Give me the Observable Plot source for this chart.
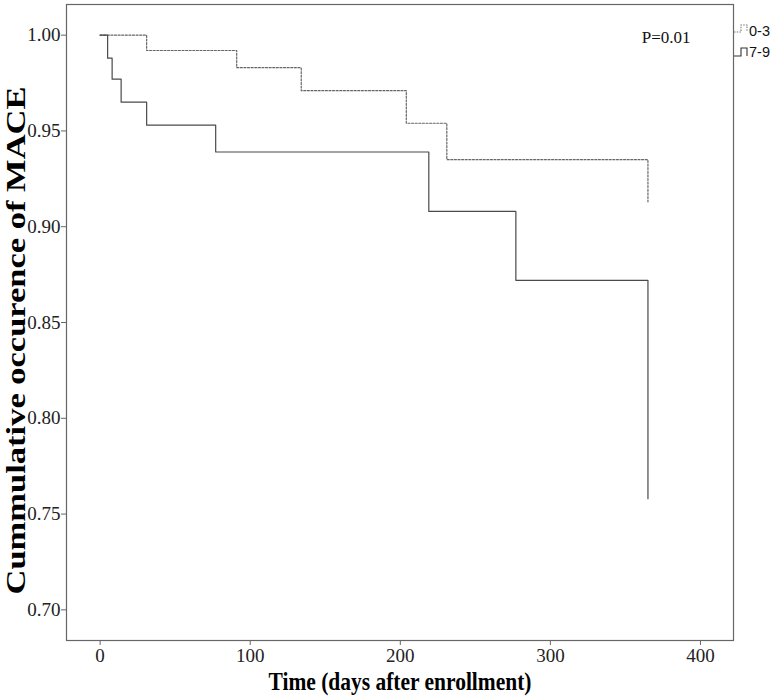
<!DOCTYPE html>
<html><head><meta charset="utf-8">
<script src="https://cdn.jsdelivr.net/npm/d3@7"></script>
<script src="https://cdn.jsdelivr.net/npm/@observablehq/plot@0.6"></script>
<style>
body{margin:0;background:#fff}
#wrap{position:relative;width:780px;height:699px;overflow:hidden}
#legend{position:absolute;left:0;top:0}
</style>
</head><body><div id="wrap"></div>
<script>
// Data (Kaplan–Meier style step curves)
const groups = ["0-3", "7-9"];
const daysLow = [0, 31, 91, 134, 204, 231, 365];
const survLow = [1.0, 0.992, 0.983, 0.971, 0.954, 0.935, 0.913];
const daysHigh = [0, 5, 8, 14, 31, 77, 219, 277, 365];
const survHigh = [1.0, 0.988, 0.977, 0.965, 0.953, 0.939, 0.908, 0.872, 0.758];
const xTicks = [0, 100, 200, 300, 400];
const yTicks = [0.70, 0.75, 0.80, 0.85, 0.90, 0.95, 1.00];
const xTitle = "Time (days after enrollment)";
const yTitle = "Cummulative occurence of MACE";
const pText = "P=0.01";

const rows = [
  ...daysLow.map((d, i) => ({group: groups[0], day: d, s: survLow[i]})),
  ...daysHigh.map((d, i) => ({group: groups[1], day: d, s: survHigh[i]}))
];

const chart = Plot.plot({
  width: 780, height: 699,
  marginLeft: 66, marginRight: 47, marginTop: 4, marginBottom: 59,
  style: {fontFamily: "'Liberation Serif', 'Times New Roman', serif", background: "#fff", color: "#222"},
  x: {domain: [-22.4, 422]},
  y: {domain: [0.684, 1.016]},
  marks: [
    Plot.frame({stroke: "#666", strokeWidth: 1.2}),
    Plot.axisX({ticks: xTicks, tickSize: 5, tickPadding: 3, fontSize: 19, label: null, stroke: "#666"}),
    Plot.axisY({ticks: yTicks, tickSize: 5, tickPadding: 1, fontSize: 19, label: null, tickFormat: d3.format(".2f"), stroke: "#666"}),
    Plot.line(rows.filter(d => d.group === groups[0]), {x: "day", y: "s", curve: "step-after", stroke: "#666", strokeWidth: 1.2, strokeDasharray: "2,1.6"}),
    Plot.line(rows.filter(d => d.group === groups[1]), {x: "day", y: "s", curve: "step-after", stroke: "#4a4a4a", strokeWidth: 1.2}),
    Plot.text([pText], {frameAnchor: "top-right", text: d => d, textAnchor: "end", dx: -43, dy: 26, fontSize: 17, fill: "#111"}),
    Plot.text([xTitle], {frameAnchor: "bottom", text: d => d, dy: 49, fontSize: 26, fontWeight: "bold", fill: "#000"}),
    Plot.text([yTitle], {frameAnchor: "left", textAnchor: "middle", text: d => d, rotate: -90, dx: -50, dy: 18, fontSize: 27, fontWeight: "bold", fill: "#000"})
  ]
});

// condense / stretch the titles like the reference
chart.querySelectorAll("text").forEach(t => {
  if (t.textContent === xTitle) { t.setAttribute("textLength", 263); t.setAttribute("lengthAdjust", "spacingAndGlyphs"); }
  if (t.textContent === yTitle) { t.setAttribute("textLength", 508); t.setAttribute("lengthAdjust", "spacingAndGlyphs"); }
});

const wrap = document.getElementById("wrap");
wrap.appendChild(chart);

// legend outside the frame on the right
const ns = "http://www.w3.org/2000/svg";
const leg = document.createElementNS(ns, "svg");
leg.setAttribute("id", "legend");
leg.setAttribute("width", 780); leg.setAttribute("height", 80);
const items = [
  {label: groups[0], dash: "1.5,1.2", color: "#777", top: 25, bot: 32, base: 36},
  {label: groups[1], dash: null, color: "#333", top: 48, bot: 56, base: 56.5}
];
items.forEach(it => {
  const p = document.createElementNS(ns, "path");
  p.setAttribute("d", `M734,${it.bot}H741V${it.top}H747V${it.bot}`);
  p.setAttribute("fill", "none"); p.setAttribute("stroke", it.color); p.setAttribute("stroke-width", 1.1);
  if (it.dash) p.setAttribute("stroke-dasharray", it.dash);
  leg.appendChild(p);
  const t = document.createElementNS(ns, "text");
  t.setAttribute("x", 749); t.setAttribute("y", it.base);
  t.setAttribute("font-family", "'Liberation Sans', Arial, sans-serif");
  t.setAttribute("font-size", 14.5); t.setAttribute("fill", "#111");
  t.textContent = it.label;
  leg.appendChild(t);
});
wrap.appendChild(leg);
</script>
</body></html>
